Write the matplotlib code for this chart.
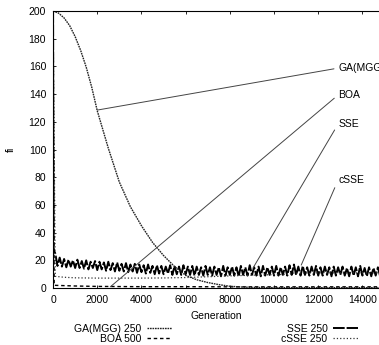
import numpy as np
import matplotlib.pyplot as plt

plt.rcParams['font.family'] = ['Liberation Sans', 'DejaVu Sans']

# GA(MGG) 250 - smooth decline
ga_gen = [0, 250, 500, 750, 1000, 1250, 1500, 1750, 2000, 2500, 3000, 3500, 4000, 4500,
          5000, 5500, 6000, 6500, 7000, 7500, 8000, 8500, 9000, 10000, 11000, 12000,
          13000, 14000, 14750]
ga_fit = [200, 198.5, 195, 189.5, 181.5, 171.5, 159.5, 145, 128, 101, 76.5, 58.7, 45, 33,
          23.5, 15.5, 9.2, 6.0, 4.0, 2.5, 1.3, 0.8, 0.5, 0.3, 0.3, 0.3,
          0.3, 0.3, 0.3]

# BOA 500 - drops at once, stays near zero
boa_gen = [0, 50, 1000, 2000, 4000, 6000, 8000, 10000, 12000, 14750]
boa_fit = [200, 2.0, 1.5, 1.2, 1.0, 1.0, 0.9, 0.9, 0.9, 0.9]

# SSE 250 - noisy band
sse_gen = [0, 25] + list(np.arange(100, 14900, 100))
sse_fit = [200, 28,
           25, 16, 22, 15.5, 21, 15, 20.5, 15.5, 20, 14.5,
           20.5, 14.5, 19.5, 14, 20, 13.5, 19, 14.5, 19.5, 13,
           19, 13.5, 18.5, 12.5, 19, 13, 18, 12, 18.5, 12.5,
           17.5, 12, 18, 11.5, 17, 12, 17.5, 11, 17, 11.5,
           16.5, 10.5, 17, 11, 16, 10, 16.5, 10.5, 16, 10,
           15.5, 10.5, 16.5, 9.5, 16, 10, 15.5, 9.5, 16.5, 10,
           15.5, 9.5, 16, 9, 15.5, 9.5, 15, 9, 16, 9.5,
           15, 9, 15.5, 9.5, 15, 8.5, 16, 9, 15, 9.5,
           15.5, 9, 15, 8.5, 16, 9.5, 15, 9, 16.5, 9.5,
           15, 9, 15.5, 8.5, 16, 9, 15, 9.5, 15.5, 9,
           16, 9, 15, 9.5, 15.5, 9, 16.5, 9.5, 17, 9.5,
           15.5, 9, 16, 9.5, 15, 9, 15.5, 9.5, 16, 9,
           15, 9, 15.5, 9.5, 15, 8.5, 15.5, 9, 15, 9.5,
           15.5, 9, 14.5, 8.5, 15.5, 9, 15, 8.5, 16, 9,
           14.5, 8.5, 15, 8.5, 14.5, 9, 15, 8.5]

# cSSE 250
csse_gen = [0, 100, 500, 1000, 2000, 3000, 4000, 5000, 6000, 7000, 8000, 9000,
            10000, 10700, 10800, 11000, 12000, 13000, 14000, 14750]
csse_fit = [200, 8.5, 7.8, 7.4, 7.2, 7.2, 7.2, 7.3, 7.6, 8.2, 8.8, 9.3,
            9.7, 9.9, 10.8, 10.9, 11.0, 11.0, 11.0, 11.0]

labels = ['GA(MGG) 250', 'BOA 500', 'SSE 250', 'cSSE 250']

fig = plt.figure(figsize=(3.79, 3.45), dpi=100)
ax = fig.add_axes([0.14, 0.165, 0.86, 0.803])

ax.plot(sse_gen, sse_fit, color='black', lw=1.4, dashes=(6, 1), label=labels[2])
ax.plot(csse_gen, csse_fit, color='#333333', lw=0.9, ls=':', label=labels[3])
ax.plot(boa_gen, boa_fit, color='black', lw=1.0, dashes=(2.5, 2), label=labels[1])
ax.plot(ga_gen, ga_fit, color='#222222', lw=1.0, dashes=(1.2, 0.6), label=labels[0])

ax.set_xlim(0, 14750)
ax.set_ylim(0, 200)
ax.set_xticks(range(0, 14001, 2000))
ax.set_yticks(range(0, 201, 20))
ax.tick_params(direction='in', length=2.5, labelsize=7.5, top=True, width=0.6, pad=5)
ax.spines['right'].set_visible(False)
for s in ['left', 'top', 'bottom']:
    ax.spines[s].set_linewidth(0.8)

ax.set_xlabel('Generation', fontsize=7.5, labelpad=4)
ax.set_ylabel('fi', fontsize=7.5)
ax.yaxis.set_label_coords(-0.115, 0.5)

# annotations
ann = [('GA(MGG)', 158.8, 2000, 128.5),
       ('BOA', 139.4, 2590, 0.9),
       ('SSE', 118.4, 9045, 14.4),
       ('cSSE', 78.0, 11230, 16.6)]
for txt, ty, px, py in ann:
    ax.annotate(txt, xy=(px, py), xytext=(12900, ty), fontsize=7.5,
                ha='left', va='center', annotation_clip=False,
                arrowprops=dict(arrowstyle='-', color='#444444', lw=0.7,
                                relpos=(0, 0.5), shrinkA=1, shrinkB=0))

h, l = ax.get_legend_handles_labels()
order = [3, 2, 0, 1]
fig.legend([h[i] for i in order], [l[i] for i in order], ncol=2, markerfirst=False,
           frameon=False, fontsize=7.5, loc='center', bbox_to_anchor=(0.57, 0.033),
           columnspacing=10.5, handlelength=2.4, labelspacing=0.0, handletextpad=0.5)

fig.savefig('out.png', dpi=100)
